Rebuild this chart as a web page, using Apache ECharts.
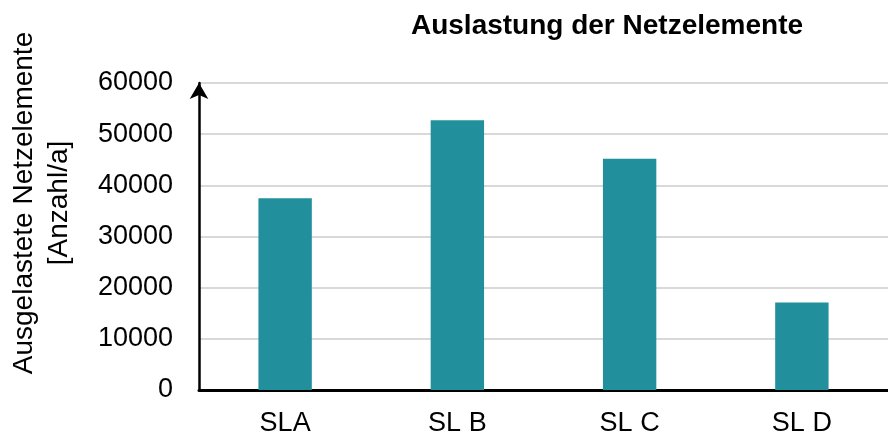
<!DOCTYPE html>
<html>
<head>
<meta charset="utf-8">
<script src="https://cdn.jsdelivr.net/npm/echarts@6/dist/echarts.min.js"></script>
<style>
  html, body { margin: 0; padding: 0; background: #fff; }
  #chart { width: 888px; height: 438px; }
</style>
</head>
<body>
<div id="chart"></div>
<script>
const categories = ['SLA', 'SL B', 'SL C', 'SL D'];
const values = [37500, 52700, 45200, 17100];
const yTicks = [0, 10000, 20000, 30000, 40000, 50000, 60000];

const FONT = 'Liberation Sans, Arial, sans-serif';

let chartDom = document.getElementById('chart');
let myChart = echarts.init(chartDom);
let option;

option = {
  animation: false,
  title: {
    text: 'Auslastung der Netzelemente',
    left: 602,
    top: 7,
    textAlign: 'center',
    textStyle: { fontFamily: FONT, fontWeight: 'bold', fontSize: 28, color: '#000' }
  },
  graphic: [
    {
      type: 'text',
      x: 42,
      y: 203,
      rotation: Math.PI / 2,
      style: {
        text: 'Ausgelastete Netzelemente\n[Anzahl/a]',
        font: '28px ' + FONT,
        fill: '#000',
        align: 'center',
        verticalAlign: 'middle',
        lineHeight: 35
      }
    }
  ],
  grid: { left: 199, top: 83, bottom: 48, right: -11 },
  xAxis: {
    type: 'category',
    data: categories,
    axisLine: { lineStyle: { color: '#000', width: 3 } },
    axisTick: { show: false },
    axisLabel: { color: '#000', fontSize: 27, fontFamily: FONT, margin: 20 }
  },
  yAxis: {
    type: 'value',
    min: yTicks[0],
    max: yTicks[yTicks.length - 1],
    interval: 10000,
    axisLine: {
      show: true,
      symbol: ['none', 'arrow'],
      symbolSize: [14, 16],
      lineStyle: { color: '#000', width: 2.5 }
    },
    axisTick: { show: false },
    axisLabel: {
      color: '#000',
      fontSize: 27,
      fontFamily: FONT,
      margin: 26,
      formatter: v => String(v)
    },
    splitLine: { lineStyle: { color: '#d9d9d9', width: 2 } }
  },
  series: [
    {
      type: 'bar',
      data: values,
      barWidth: '31%',
      itemStyle: { color: '#21909c' }
    }
  ]
};

option && myChart.setOption(option);
</script>
</body>
</html>
